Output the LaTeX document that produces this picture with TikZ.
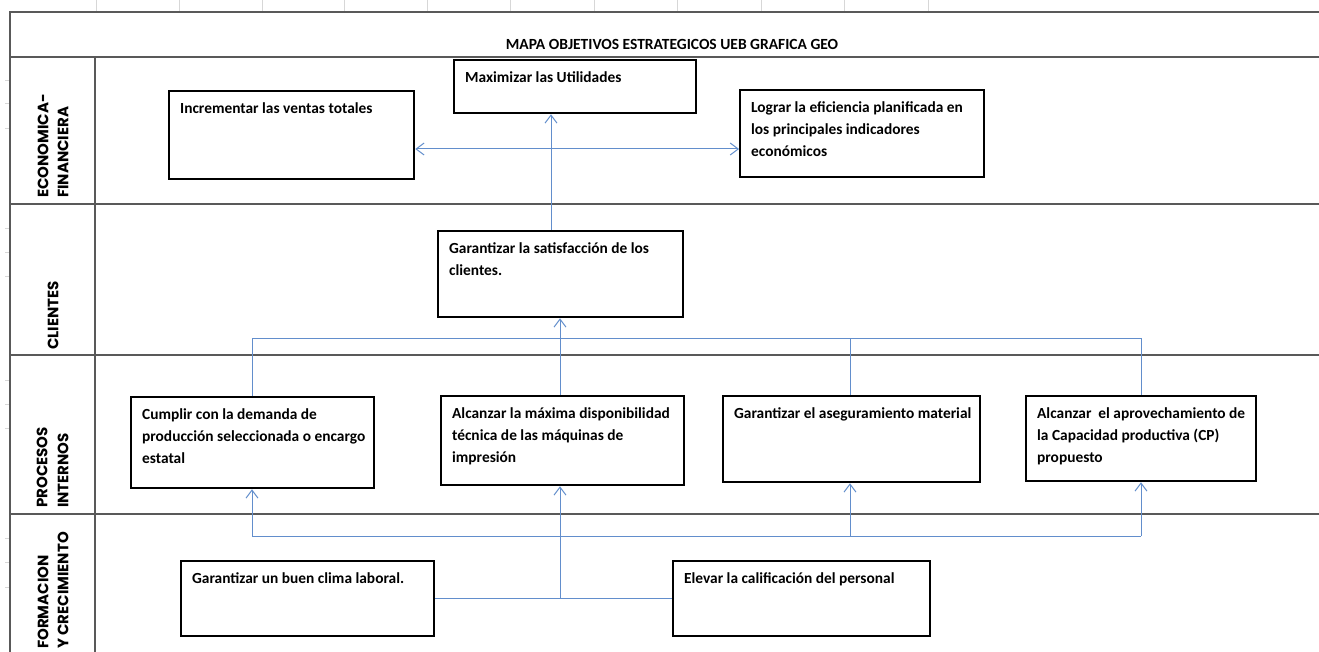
\documentclass[tikz,border=0pt]{standalone}
\usepackage{fontspec}
\setmainfont{Carlito}
\newfontfamily\lanefont{Poppins}
\usetikzlibrary{arrows.meta,calc}
\definecolor{conncol}{RGB}{98,142,204}
\definecolor{gridcol}{RGB}{89,89,89}
\definecolor{ghost}{RGB}{215,215,215}
\newcommand\bt[3]{\parbox[c][#2pt][t]{#1pt}{\raggedright\leftskip=11pt\rule{0pt}{22pt}#3}}
\begin{document}
\begin{tikzpicture}[x=1pt,y=-1pt,
  obj/.style={draw, line width=2.3pt, anchor=north west, inner sep=0pt,
    font=\bfseries\fontsize{15.4}{22}\selectfont},
  lane/.style={rotate=90, inner sep=0pt, font=\lanefont\bfseries\fontsize{15}{18}\selectfont},
  grid/.style={gridcol, line width=1.3pt},
  ghostline/.style={ghost, line width=0.8pt},
  conn/.style={conncol, line width=1pt},
  arr/.style={conn, -{Straight Barb[length=8pt,width=12pt]}}]
\useasboundingbox (0,0) rectangle (1319,652);
\fill[white] (0,0) rectangle (1319,652);
% spreadsheet ghost lines
\foreach \gx in {96,179,262,344,427,510,594,677,761,844,928}
  \draw[ghostline] (\gx,0) -- (\gx,11);
\foreach \gy in {80,103,128,228,252,276,380,404,428,538,562,587}
  \draw[ghostline] (5,\gy) -- (10,\gy);
% frame and lanes
\draw[grid] (1319,12) -- (10,12) -- (10,652);
\draw[grid] (10,57) -- (1319,57);
\draw[grid] (10,204) -- (1319,204);
\draw[grid] (10,355) -- (1319,355);
\draw[grid] (10,514) -- (1319,514);
\draw[grid] (95,57) -- (95,652);
\node[font=\bfseries\fontsize{15.5}{18}\selectfont] (title) at (672,44) {MAPA OBJETIVOS ESTRATEGICOS UEB GRAFICA GEO};
% lane labels
\node[lane, anchor=west] (l1a) at (43,198) {ECONOMICA-};
\node[lane, anchor=west] (l1b) at (63,198) {FINANCIERA};
\node[lane, anchor=west] (l2) at (53,350) {CLIENTES};
\node[lane, anchor=west] (l3a) at (42,508) {PROCESOS};
\node[lane, anchor=west] (l3b) at (63,508) {INTERNOS};
\node[lane, anchor=west] (l4a) at (43,649) {FORMACION};
\node[lane, anchor=west] (l4b) at (63,649) {Y CRECIMIENTO};
% objective boxes
\node[obj] (max) at (453,59) {\bt{242}{53}{Maximizar las Utilidades}};
\node[obj] (inc) at (168,90) {\bt{245}{88}{Incrementar las ventas totales}};
\node[obj] (log) at (739,89) {\bt{244}{87}{Lograr la eficiencia planificada en\\los principales indicadores\\económicos}};
\node[obj] (sat) at (437,230) {\bt{245}{86}{Garantizar la satisfacción de los\\clientes.}};
\node[obj] (cum) at (130,396) {\bt{243}{91}{Cumplir con la demanda de\\producción seleccionada o encargo\\estatal}};
\node[obj] (alc) at (440,395) {\bt{243}{89}{Alcanzar la máxima disponibilidad\\técnica de las máquinas de\\impresión}};
\node[obj] (mat) at (722,395) {\bt{257}{86}{Garantizar el aseguramiento material}};
\node[obj] (apr) at (1025,395) {\bt{230}{85}{Alcanzar\ \ el aprovechamiento de\\la Capacidad productiva (CP)\\propuesto}};
\node[obj] (cla) at (180,560) {\bt{253}{75}{Garantizar un buen clima laboral.}};
\node[obj] (elv) at (672,560) {\bt{257}{75}{Elevar la calificación del personal}};
% helper coordinates
\coordinate (c1) at (551,0);
\coordinate (c2) at (252,0);
\coordinate (c3) at (560,0);
\coordinate (c4) at (850,0);
\coordinate (c5) at (1141,0);
\coordinate (j1) at (0,149);
\coordinate (j2) at (0,338);
\coordinate (j3) at (0,536);
\coordinate (j4) at (0,598);
% connectors: economic perspective
\draw[arr] (sat.north -| c1) -- (max.south -| c1);
\draw[arr] (c1 |- j1) -- (inc.east |- j1);
\draw[arr] (c1 |- j1) -- (log.west |- j1);
% internal processes -> clients
\draw[conn] (cum.north -| c2) -- (c2 |- j2) -- (c5 |- j2) -- (apr.north -| c5);
\draw[conn] (mat.north -| c4) -- (c4 |- j2);
\draw[arr] (alc.north -| c3) -- (sat.south -| c3);
% learning -> internal processes
\draw[conn] (cla.east |- j4) -- (elv.west |- j4);
\draw[arr] (c3 |- j4) -- (alc.south -| c3);
\draw[conn] (c2 |- j3) -- (c5 |- j3);
\draw[arr] (c2 |- j3) -- (cum.south -| c2);
\draw[arr] (c4 |- j3) -- (mat.south -| c4);
\draw[arr] (c5 |- j3) -- (apr.south -| c5);
\end{tikzpicture}
\end{document}
